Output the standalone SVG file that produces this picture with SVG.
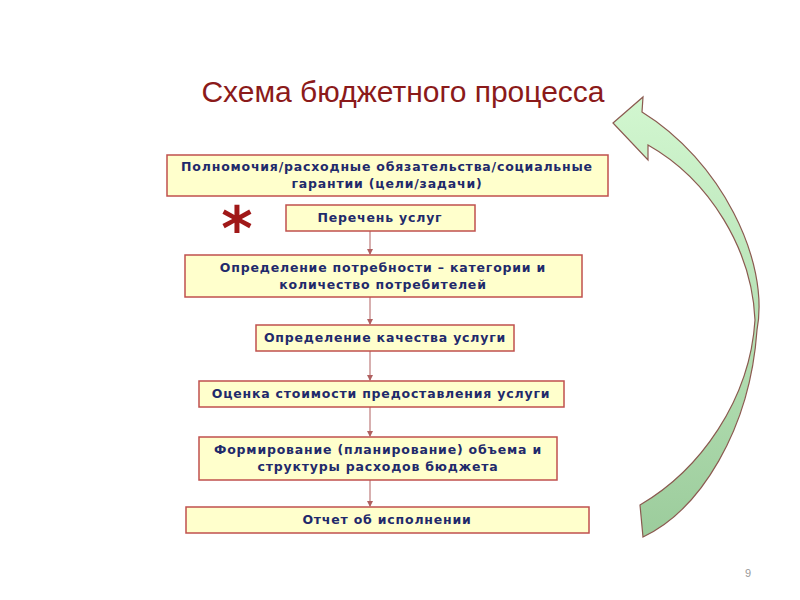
<svg xmlns="http://www.w3.org/2000/svg" width="800" height="600" viewBox="0 0 800 600">
<style>
.b{fill:#ffffcc;stroke:#c0504d;stroke-width:1.5}
.t{font-family:"DejaVu Sans",sans-serif;font-weight:bold;font-size:12.5px;letter-spacing:0.8px;fill:#1f2a6b;text-anchor:middle}
.c{stroke:#b06060;stroke-width:1;fill:none}
</style>
<defs>
<marker id="a" markerWidth="6" markerHeight="6" refX="5" refY="3" orient="auto"><path d="M0,0 L6,3 L0,6 Z" fill="#b06060"/></marker>
<linearGradient id="g" x1="0" y1="0" x2="0" y2="1"><stop offset="0" stop-color="#d2f7d0"/><stop offset="1" stop-color="#9ccc9c"/></linearGradient>
</defs>
<rect width="800" height="600" fill="#fff"/>
<text x="403" y="102" text-anchor="middle" font-family="Liberation Sans,sans-serif" font-size="30" fill="#8b1a1a">Схема бюджетного процесса</text>
<g id="cycle"><path d="M613,123 L643,97 L642,112 C720,160 770,260 757,330 C750,430 700,510 643,537 L640,505 C700,470 750,400 755,320 C752,250 710,180 648,145 L648,160 Z" fill="url(#g)" stroke="#8b5a50" stroke-width="1.2"/></g>
<text x="237" y="250" text-anchor="middle" font-family="DejaVu Sans,sans-serif" font-weight="bold" font-size="60" fill="#a01818">*</text>
<g id="connectors">
<line class="c" x1="370" y1="231" x2="370" y2="254" marker-end="url(#a)"/>
<line class="c" x1="370" y1="297" x2="370" y2="324" marker-end="url(#a)"/>
<line class="c" x1="370" y1="351" x2="370" y2="380" marker-end="url(#a)"/>
<line class="c" x1="370" y1="407" x2="370" y2="436" marker-end="url(#a)"/>
<line class="c" x1="370" y1="480" x2="370" y2="506" marker-end="url(#a)"/>
</g>
<g id="n1"><rect class="b" x="167" y="155" width="441" height="41"/><text class="t" x="387" y="171">Полномочия/расходные обязательства/социальные</text><text class="t" x="387" y="188">гарантии (цели/задачи)</text></g>
<g id="n2"><rect class="b" x="286" y="205" width="189" height="26"/><text class="t" x="380" y="222">Перечень услуг</text></g>
<g id="n3"><rect class="b" x="185" y="255" width="397" height="42"/><text class="t" x="383" y="272">Определение потребности – категории и</text><text class="t" x="383" y="289">количество потребителей</text></g>
<g id="n4"><rect class="b" x="256" y="325" width="258" height="26"/><text class="t" x="385" y="342">Определение качества услуги</text></g>
<g id="n5"><rect class="b" x="199" y="381" width="365" height="26"/><text class="t" x="381" y="398">Оценка стоимости предоставления услуги</text></g>
<g id="n6"><rect class="b" x="199" y="437" width="358" height="43"/><text class="t" x="378" y="454">Формирование (планирование) объема и</text><text class="t" x="378" y="471">структуры расходов бюджета</text></g>
<g id="n7"><rect class="b" x="186" y="507" width="403" height="26"/><text class="t" x="387" y="524">Отчет об исполнении</text></g>
<text x="748" y="577" text-anchor="middle" font-family="Liberation Sans,sans-serif" font-size="11" fill="#999">9</text>
</svg>
